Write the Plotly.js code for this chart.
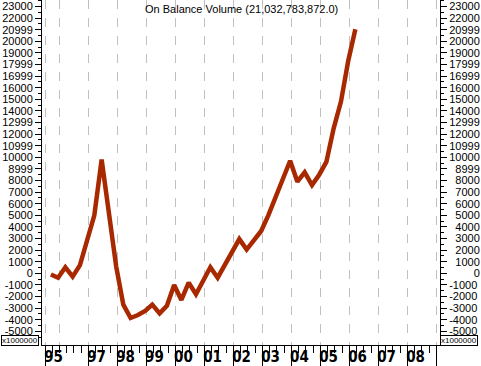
<!DOCTYPE html>
<html><head><meta charset="utf-8">
<script src="https://cdn.plot.ly/plotly-3.0.1.min.js"></script>
<style>html,body{margin:0;padding:0;background:#fff}#chart{width:481px;height:366px}</style>
</head><body><div id="chart"></div>
<script>
// Quarterly observations (values in millions)
const dates = ['1995-09-15','1995-12-15',
 '1996-03-15','1996-06-15','1996-09-15','1996-12-15',
 '1997-03-15','1997-06-15','1997-09-15','1997-12-15',
 '1998-03-15','1998-06-15','1998-09-15','1998-12-15',
 '1999-03-15','1999-06-15','1999-09-15','1999-12-15',
 '2000-03-15','2000-06-15','2000-09-15','2000-12-15',
 '2001-03-15','2001-06-15','2001-09-15','2001-12-15',
 '2002-03-15','2002-06-15','2002-09-15','2002-12-15',
 '2003-03-15','2003-06-15','2003-09-15','2003-12-15',
 '2004-03-15','2004-06-15','2004-09-15','2004-12-15',
 '2005-03-15','2005-06-15','2005-09-15','2005-12-15',
 '2006-03-15'];
const obv = [-100,-380,
 520,-290,700,2700,
 5000,9800,5000,600,
 -2700,-3850,-3600,-3250,
 -2700,-3450,-2800,-1000,
 -2300,-800,-1800,-700,
 520,-380,700,1800,
 2950,2050,2800,3650,
 5000,6500,8100,9700,
 7900,8700,7600,8500,
 9600,12500,14800,18300,
 21032.78];

const yTickVals = [-5000,-4000,-3000,-2000,-1000,0,1000,2000,3000,4000,5000,6000,7000,8000,9000,10000,11000,12000,13000,14000,15000,16000,17000,18000,19000,20000,21000,22000,23000];
const yTickText = ['-5000','-4000','-3000','-2000','-1000','0','1000','2000','3000','4000','5000','6000','7000','8000','8999','10000','10999','12000','12999','14000','15000','16000','16999','17999','19000','20000','20999','22000','23000'];

const gridDates = ['1995-07-10','1996-01-01','1997-01-01','1998-01-01','1999-01-01','2000-01-01','2001-01-01','2002-01-01','2003-01-01','2004-01-01','2005-01-01','2006-01-01','2007-01-01','2008-01-01','2009-01-01'];
const yearTickVals = ['1995-07-10','1997-01-01','1998-01-01','1999-01-01','2000-01-01','2001-01-01','2002-01-01','2003-01-01','2004-01-01','2005-01-01','2006-01-01','2007-01-01','2008-01-01','2009-01-01'];
const yearTickText = ['95','97','98','99','00','01','02','03','04','05','06','07','08',''];

const titleText = 'On Balance Volume (21,032,783,872.0)';
const unitText = 'x1000000';

// minor ticks
const minorX = [];
for (let y = 1995; y <= 2008; y++) {
  ['01','04','07','10'].forEach(m => {
    const d = y + '-' + m + '-01';
    if (d < '1995-10-01') return;
    if (m === '01' && y >= 1997) return;
    minorX.push(d);
  });
}
const minorY = [];
for (let v = -5500; v <= 23500; v += 1000) minorY.push(v);

const FS = '\u2007';
const yTickTextRight = yTickText.map(t => t.startsWith('-') ? t : FS.repeat(5 - t.length) + t);

const yRange = [-6180, 23560];
const xRange = ['1995-05-26', '2009-02-13'];

const yFont = {family: 'Liberation Sans, Arial, sans-serif', size: 11, color: '#000'};

const traces = [
  {x: dates, y: obv, type: 'scatter', mode: 'lines', xaxis: 'x', yaxis: 'y',
   line: {color: '#A82800', width: 4.5}, hoverinfo: 'skip'},
  {x: dates, y: obv, type: 'scatter', mode: 'lines', xaxis: 'x2', yaxis: 'y2',
   line: {color: 'rgba(0,0,0,0)', width: 1}, hoverinfo: 'skip'}
];

const layout = {
  width: 481, height: 366,
  margin: {l: 42, r: 41, t: 0, b: 21},
  paper_bgcolor: '#fff', plot_bgcolor: '#fff',
  showlegend: false,
  xaxis: {type: 'date', range: xRange, tickmode: 'array', tickvals: gridDates,
    showticklabels: false, ticks: '', showgrid: true, gridcolor: '#c0c0c0',
    griddash: 'dash', gridwidth: 1, zeroline: false, showline: false},
  xaxis2: {type: 'date', overlaying: 'x', matches: 'x', anchor: 'y', side: 'bottom',
    range: xRange, tickmode: 'array', tickvals: yearTickVals, ticktext: yearTickText,
    ticks: 'outside', ticklen: 21, tickwidth: 1, tickcolor: '#000',
    showline: true, linecolor: '#000', linewidth: 1, showgrid: false, zeroline: false,
    tickfont: {family: 'DejaVu Sans Condensed, Liberation Sans Narrow, sans-serif', size: 15, color: '#000', weight: 'bold'},
    ticklabelshift: 8, ticklabelstandoff: -23,
    minor: {tickmode: 'array', tickvals: minorX, ticks: 'outside', ticklen: 7, tickwidth: 1, tickcolor: '#000', showgrid: false}},
  yaxis: {range: yRange, tickmode: 'array', tickvals: yTickVals, ticktext: yTickText,
    ticks: 'outside', ticklen: 6, tickwidth: 1, tickcolor: '#000',
    showline: true, linecolor: '#000', linewidth: 1, showgrid: false, zeroline: false,
    tickfont: yFont,
    minor: {tickmode: 'array', tickvals: minorY, ticks: 'outside', ticklen: 3, tickwidth: 1, tickcolor: '#000', showgrid: false}},
  yaxis2: {overlaying: 'y', matches: 'y', anchor: 'x', side: 'right', range: yRange,
    tickmode: 'array', tickvals: yTickVals, ticktext: yTickTextRight,
    ticks: 'outside', ticklen: 6, tickwidth: 1, tickcolor: '#000',
    showline: true, linecolor: '#000', linewidth: 1, showgrid: false, zeroline: false,
    tickfont: yFont,
    minor: {tickmode: 'array', tickvals: minorY, ticks: 'outside', ticklen: 3, tickwidth: 1, tickcolor: '#000', showgrid: false}},
  annotations: [
    {text: titleText, xref: 'paper', yref: 'paper', x: 0.5, y: 1, xanchor: 'center', yanchor: 'middle',
     yshift: -8.5, showarrow: false, font: {family: 'Liberation Sans, Arial, sans-serif', size: 11, color: '#000'}},
    {text: unitText, xref: 'paper', yref: 'paper', x: -0.0565, y: 0.0116, xanchor: 'center', yanchor: 'middle',
     showarrow: false, bordercolor: '#000', borderwidth: 1, borderpad: 0, bgcolor: '#fff',
     font: {family: 'Liberation Sans, Arial, sans-serif', size: 8, color: '#000'}},
    {text: unitText, xref: 'paper', yref: 'paper', x: 1.0477, y: 0.0116, xanchor: 'center', yanchor: 'middle',
     showarrow: false, bordercolor: '#000', borderwidth: 1, borderpad: 0, bgcolor: '#fff',
     font: {family: 'Liberation Sans, Arial, sans-serif', size: 8, color: '#000'}}
  ]
};

Plotly.newPlot('chart', traces, layout, {staticPlot: true, displayModeBar: false});
</script></body></html>
